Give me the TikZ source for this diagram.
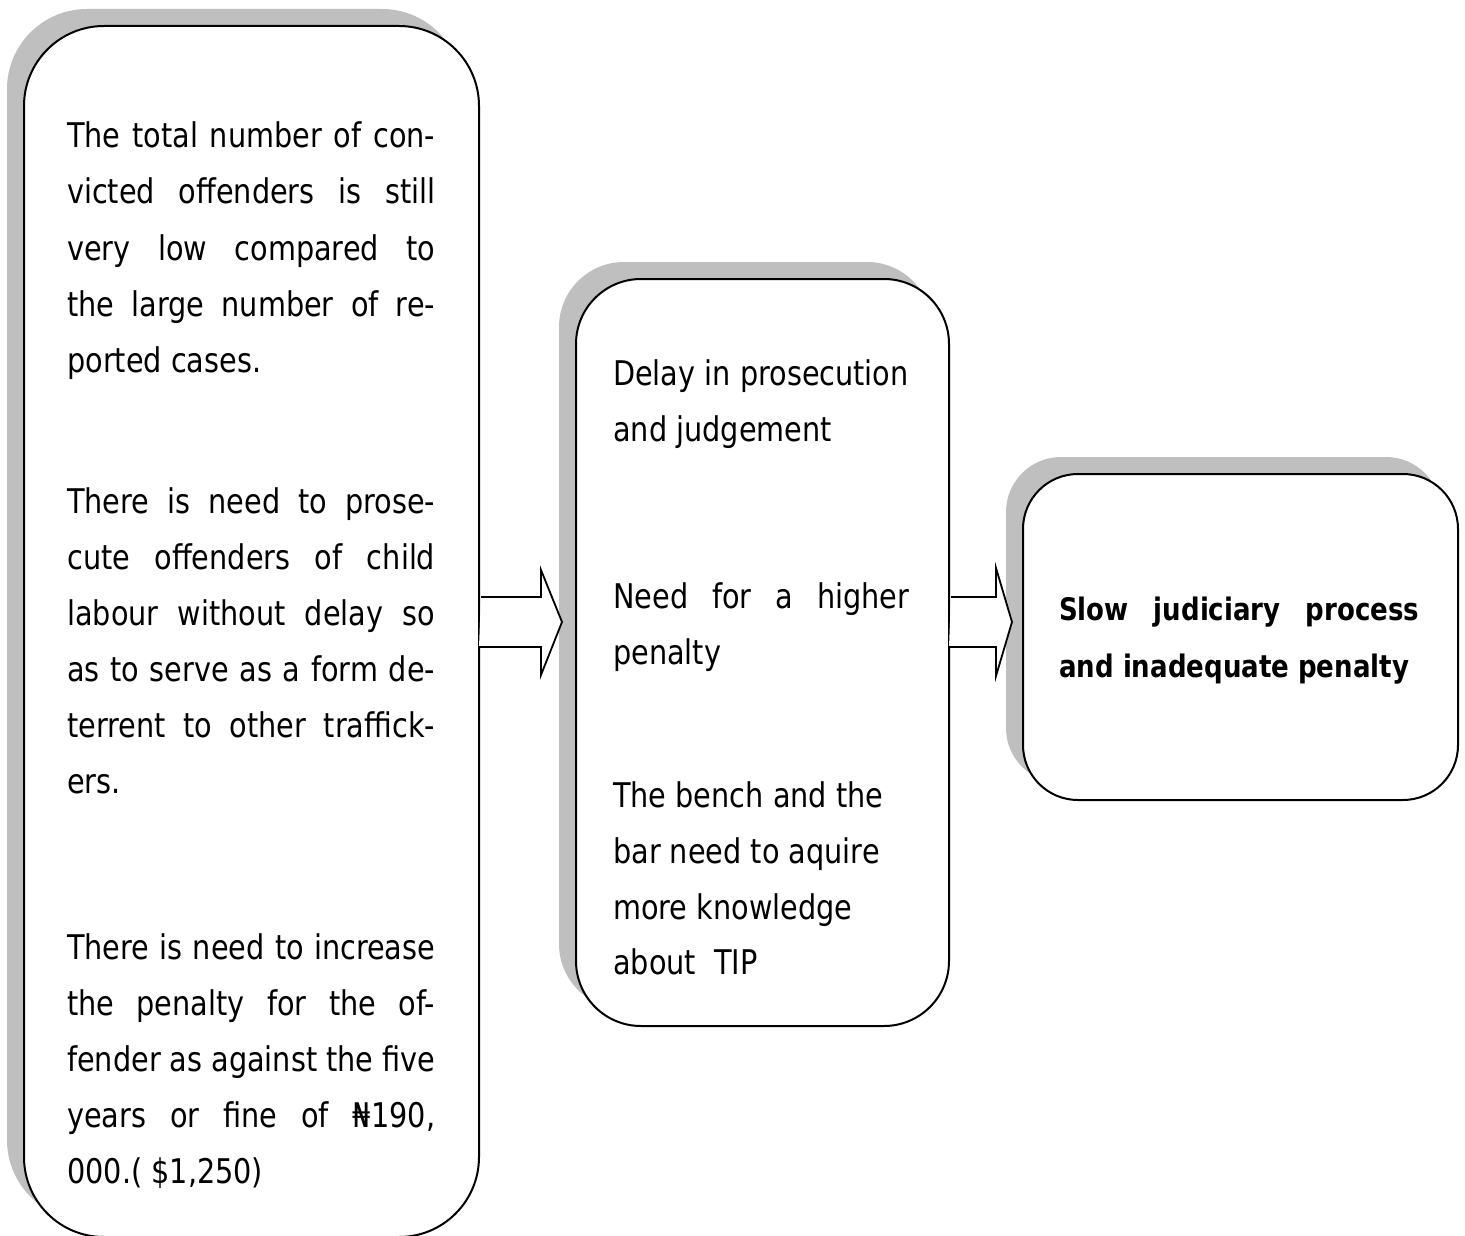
\documentclass[tikz,border=0pt]{standalone}
\usepackage{fontspec}
\setmainfont{DejaVu Sans}[FakeStretch=0.845,BoldFeatures={FakeStretch=0.84}]
\usetikzlibrary{shadows}
\begin{document}
\begin{tikzpicture}[x=1pt,y=-1pt,
  box/.style={draw=black,line width=2pt,fill=white,anchor=north west,inner sep=0pt,
    drop shadow={shadow xshift=-17pt,shadow yshift=17pt,fill=black!25,opacity=1}},
  txt/.style={anchor=base west,inner sep=0pt,font=\fontsize{34}{40}\selectfont},
  btxt/.style={anchor=base west,inner sep=0pt,font=\fontsize{31}{36}\selectfont\bfseries},
  blockarr/.style={draw=black,line width=1.8pt,fill=white,line join=miter}]
\useasboundingbox (0,0) rectangle (1465,1236);
% boxes
\node[box,rounded corners=80pt,minimum width=455pt,minimum height=1211pt] (b1) at (23,25) {};
\node[box,rounded corners=65pt,minimum width=373pt,minimum height=747pt] (b2) at (575,278) {};
\node[box,rounded corners=55pt,minimum width=435pt,minimum height=326pt] (b3) at (1022,473) {};
% block arrows
\coordinate (a1s) at (b1.east |- 0,622);
\coordinate (a1t) at (562,622);
\coordinate (a2s) at (b2.east |- 0,622);
\coordinate (a2t) at (1012,622);
\draw[blockarr] (a1s) ++(1,-25) -- (541,597) -- (541,570) -- (a1t) -- (541,675) -- (541,647) -- (479,647);
\draw[blockarr] (a2s) ++(1,-25) -- (996,597) -- (996,568) -- (a2t) -- (996,676) -- (996,647) -- (949,647);
% box 1 text
\node[txt] (t11) at (67,148) {\makebox[368pt][s]{The total number of con-}};
\node[txt] (t12) at (67,204) {\makebox[368pt][s]{victed offenders is still}};
\node[txt] (t13) at (67,260) {\makebox[368pt][s]{very low compared to}};
\node[txt] (t14) at (67,316) {\makebox[368pt][s]{the large number of re-}};
\node[txt] (t15) at (67,372) {ported cases.};
\node[txt] (t21) at (67,513) {\makebox[368pt][s]{There is need to prose-}};
\node[txt] (t22) at (67,569) {\makebox[368pt][s]{cute offenders of child}};
\node[txt] (t23) at (67,625) {\makebox[368pt][s]{labour without delay so}};
\node[txt] (t24) at (67,681) {\makebox[368pt][s]{as to serve as a form de-}};
\node[txt] (t25) at (67,737) {\makebox[368pt][s]{terrent to other traffick-}};
\node[txt] (t26) at (67,793) {ers.};
\node[txt] (t31) at (67,959) {\makebox[368pt][s]{There is need to increase}};
\node[txt] (t32) at (67,1015) {\makebox[368pt][s]{the penalty for the of-}};
\node[txt] (t33) at (67,1071) {\makebox[368pt][s]{fender as against the five}};
\node[txt] (t34) at (67,1127) {\makebox[368pt][s]{years or fine of ₦190,}};
\node[txt] (t35) at (67,1183) {000.( \$1,250)};
% box 2 text
\node[txt] (u1) at (613,385) {Delay in prosecution};
\node[txt] (u2) at (613,441) {and judgement};
\node[txt] (u3) at (613,608) {\makebox[296pt][s]{Need for a higher}};
\node[txt] (u4) at (613,664) {penalty};
\node[txt] (u5) at (613,807) {The bench and the};
\node[txt] (u6) at (613,863) {bar need to aquire};
\node[txt] (u7) at (613,919) {more knowledge};
\node[txt] (u8) at (613,974) {about\ \ TIP};
% box 3 text
\node[btxt] (v1) at (1059,620) {\makebox[360pt][s]{Slow judiciary process}};
\node[btxt] (v2) at (1059,677) {and inadequate penalty};
\end{tikzpicture}
\end{document}
